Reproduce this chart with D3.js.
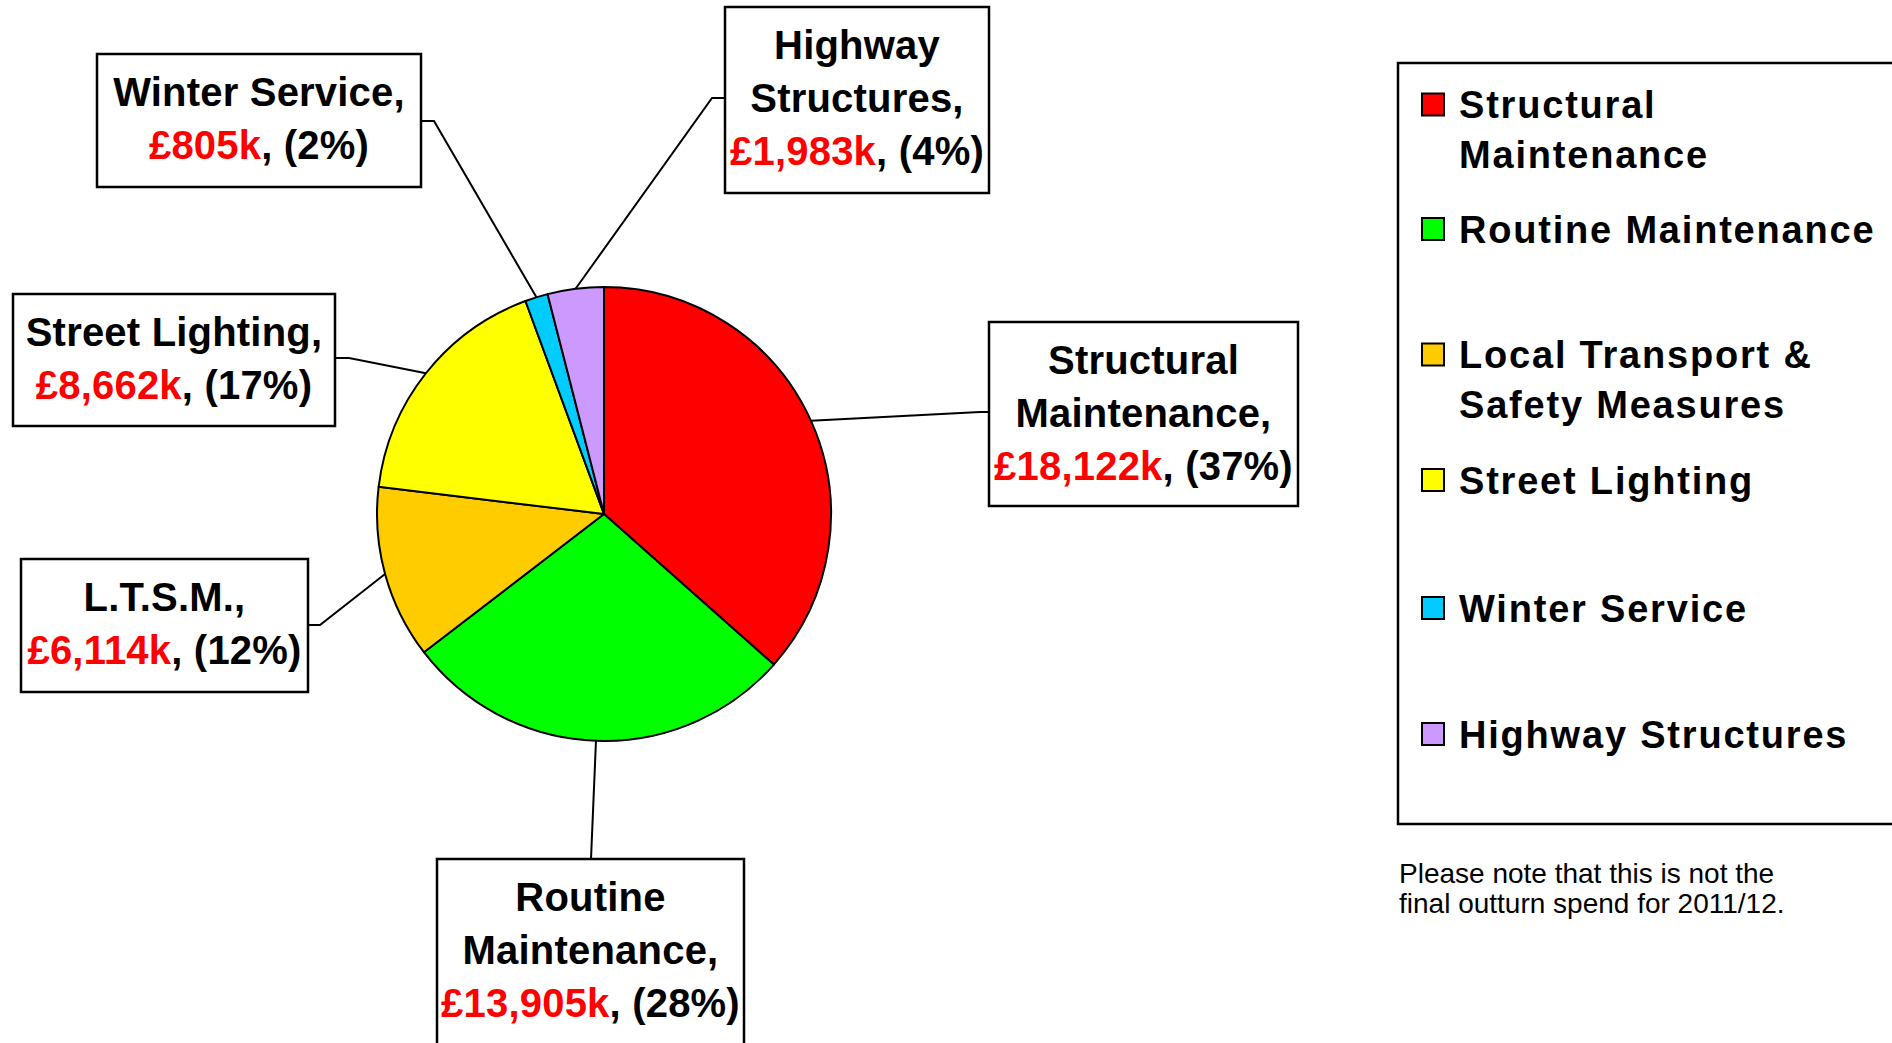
<!DOCTYPE html>
<html>
<head>
<meta charset="utf-8">
<script src="https://cdn.jsdelivr.net/npm/d3@7"></script>
<style>
  html, body { margin: 0; padding: 0; background: #fff; overflow: hidden; }
  svg { display: block; font-family: "Liberation Sans", Arial, sans-serif; }
</style>
</head>
<body>
<div id="chart"></div>
<script>
// Spend by category, £k (clockwise from 12 o'clock)
const categories = ['Structural Maintenance', 'Routine Maintenance', 'Local Transport & Safety Measures',
  'Street Lighting', 'Winter Service', 'Highway Structures'];
const values = [18122, 13905, 6114, 8662, 805, 1983];
const colors = ['#ff0000', '#00ff00', '#ffcc00', '#ffff00', '#00ccff', '#cc99ff'];
const labelNames = [['Structural', 'Maintenance,'], ['Routine', 'Maintenance,'], ['L.T.S.M.,'],
  ['Street Lighting,'], ['Winter Service,'], ['Highway', 'Structures,']];
const legendLines = [['Structural', 'Maintenance'], ['Routine Maintenance'], ['Local Transport &', 'Safety Measures'],
  ['Street Lighting'], ['Winter Service'], ['Highway Structures']];
const footnote = ['Please note that this is not the', 'final outturn spend for 2011/12.'];

const width = 1892, height = 1043;
const cx = 604, cy = 514, radius = 227;

// label box layout: box rect, side where leader attaches, and stub length
const boxes = [
  { x: 989, y: 322, w: 309, h: 184, side: 'left', at: 412, stub: 9 },
  { x: 437, y: 859, w: 307, h: 200, side: 'top', at: 591, stub: 0 },
  { x: 21, y: 559, w: 287, h: 133, side: 'right', at: 625, stub: 12 },
  { x: 13, y: 294, w: 322, h: 132, side: 'right', at: 358, stub: 14 },
  { x: 97, y: 54, w: 324, h: 133, side: 'right', at: 121, stub: 13 },
  { x: 725, y: 7, w: 264, h: 186, side: 'left', at: 98, stub: 13 }
];

const total = d3.sum(values);
const fmt = d3.format(',');

const svg = d3.select('#chart').append('svg')
  .attr('width', width)
  .attr('height', height);

const pie = d3.pie().sort(null).value(d => d)(values);
const arc = d3.arc().innerRadius(0).outerRadius(radius);

const pieGroup = svg.append('g').attr('transform', `translate(${cx},${cy})`);
pieGroup.selectAll('path')
  .data(pie)
  .enter().append('path')
  .attr('d', arc)
  .attr('fill', (d, i) => colors[i])
  .attr('stroke', '#000')
  .attr('stroke-width', 2)
  .attr('stroke-linejoin', 'round');

// leader lines
const leaders = svg.append('g');
pie.forEach((d, i) => {
  const b = boxes[i];
  const mid = (d.startAngle + d.endAngle) / 2;
  const px = cx + radius * Math.sin(mid);
  const py = cy - radius * Math.cos(mid);
  let pts;
  if (b.side === 'left') pts = [[b.x, b.at], [b.x - b.stub, b.at], [px, py]];
  else if (b.side === 'right') pts = [[b.x + b.w, b.at], [b.x + b.w + b.stub, b.at], [px, py]];
  else pts = [[b.at, b.y], [px, py]];
  leaders.append('path')
    .attr('d', d3.line()(pts))
    .attr('fill', 'none')
    .attr('stroke', '#000')
    .attr('stroke-width', 2);
});

// label boxes
const labelFont = 40, lineH = 53;
boxes.forEach((b, i) => {
  const g = svg.append('g');
  g.append('rect')
    .attr('x', b.x).attr('y', b.y)
    .attr('width', b.w).attr('height', b.h)
    .attr('fill', '#fff')
    .attr('stroke', '#000')
    .attr('stroke-width', 2.5);
  const t = g.append('text')
    .attr('text-anchor', 'middle')
    .attr('font-size', labelFont)
    .attr('font-weight', 'bold')
    .attr('letter-spacing', 0.2);
  const lines = labelNames[i];
  lines.forEach((ln, j) => {
    t.append('tspan')
      .attr('x', b.x + b.w / 2)
      .attr('y', b.y + 52 + j * lineH)
      .attr('fill', '#000')
      .text(ln);
  });
  const vy = b.y + 52 + lines.length * lineH;
  const pct = Math.round(values[i] / total * 100);
  t.append('tspan')
    .attr('x', b.x + b.w / 2)
    .attr('y', vy)
    .attr('fill', '#ff0000')
    .text('£' + fmt(values[i]) + 'k');
  t.append('tspan')
    .attr('fill', '#000')
    .text(', (' + pct + '%)');
});

// legend
const legend = svg.append('g');
legend.append('rect')
  .attr('x', 1398).attr('y', 63)
  .attr('width', 560).attr('height', 761)
  .attr('fill', '#fff')
  .attr('stroke', '#000')
  .attr('stroke-width', 2.5);

const legendY = [104.5, 229, 354.5, 480, 608, 734];
categories.forEach((c, i) => {
  const y = legendY[i];
  legend.append('rect')
    .attr('x', 1422).attr('y', y - 11)
    .attr('width', 22).attr('height', 22)
    .attr('fill', colors[i])
    .attr('stroke', '#000')
    .attr('stroke-width', 2);
  const t = legend.append('text')
    .attr('font-size', 38)
    .attr('font-weight', 'bold')
    .attr('letter-spacing', 1.8)
    .attr('fill', '#000');
  legendLines[i].forEach((ln, j) => {
    t.append('tspan')
      .attr('x', 1459)
      .attr('y', y + 13.5 + j * 50)
      .text(ln);
  });
});

// footnote
const note = svg.append('text')
  .attr('font-size', 28)
  .attr('fill', '#000');
footnote.forEach((ln, j) => {
  note.append('tspan')
    .attr('x', 1399)
    .attr('y', 883 + j * 30)
    .text(ln);
});
</script>
</body>
</html>
